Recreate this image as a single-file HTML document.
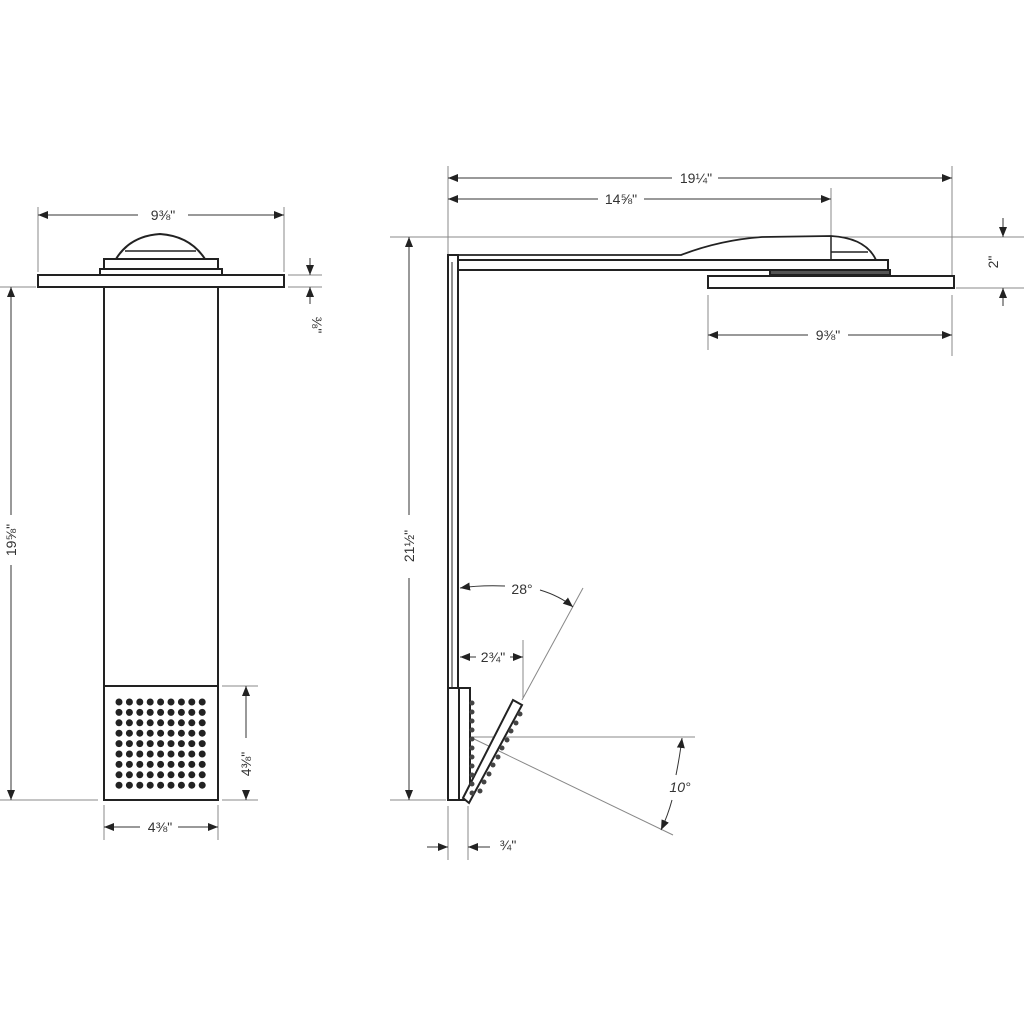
<!DOCTYPE html>
<html><head><meta charset="utf-8"><style>
html,body{margin:0;padding:0;background:#fff}
svg{display:block}
text{font-family:"Liberation Sans",sans-serif;font-size:14px;fill:#333}
</style></head><body>
<svg width="1024" height="1024" viewBox="0 0 1024 1024" xmlns="http://www.w3.org/2000/svg">
<defs>
<marker id="a" viewBox="0 0 10 10" refX="10" refY="5" markerWidth="10" markerHeight="10" markerUnits="userSpaceOnUse" orient="auto-start-reverse"><path d="M0,1 L10,5 L0,9 z" fill="#222"/></marker>
<g id="row">
<circle cx="119" cy="0" r="3.5"/><circle cx="129.4" cy="0" r="3.5"/><circle cx="139.8" cy="0" r="3.5"/><circle cx="150.2" cy="0" r="3.5"/><circle cx="160.6" cy="0" r="3.5"/><circle cx="171" cy="0" r="3.5"/><circle cx="181.4" cy="0" r="3.5"/><circle cx="191.8" cy="0" r="3.5"/><circle cx="202.2" cy="0" r="3.5"/>
</g>
</defs>
<g stroke="#888" stroke-width="1" fill="none">
<line x1="38" y1="207" x2="38" y2="272"/>
<line x1="284" y1="207" x2="284" y2="272"/>
<line x1="288" y1="275" x2="322" y2="275"/>
<line x1="288" y1="287" x2="322" y2="287"/>
<line x1="0" y1="287" x2="36" y2="287"/>
<line x1="0" y1="800" x2="98" y2="800"/>
<line x1="222" y1="686" x2="258" y2="686"/>
<line x1="222" y1="800" x2="258" y2="800"/>
<line x1="104" y1="805" x2="104" y2="840"/>
<line x1="218" y1="805" x2="218" y2="840"/>
<line x1="448" y1="166" x2="448" y2="254"/>
<line x1="952" y1="166" x2="952" y2="286"/>
<line x1="831" y1="188" x2="831" y2="237"/>
<line x1="390" y1="237" x2="1024" y2="237"/>
<line x1="956" y1="288" x2="1024" y2="288"/>
<line x1="708" y1="295" x2="708" y2="350"/>
<line x1="952" y1="295" x2="952" y2="356"/>
<line x1="390" y1="800" x2="446" y2="800"/>
<line x1="448" y1="806" x2="448" y2="860"/>
<line x1="468" y1="806" x2="468" y2="860"/>
<line x1="523" y1="640" x2="523" y2="698"/>
<line x1="522" y1="700" x2="583" y2="588"/>
<line x1="472" y1="737" x2="695" y2="737"/>
<line x1="472" y1="738" x2="673" y2="835"/>
</g>
<g stroke="#333" stroke-width="1" fill="none">
<line x1="38" y1="215" x2="138" y2="215" marker-start="url(#a)"/>
<line x1="188" y1="215" x2="284" y2="215" marker-end="url(#a)"/>
<line x1="310" y1="258" x2="310" y2="275" marker-end="url(#a)"/>
<line x1="310" y1="304" x2="310" y2="287" marker-end="url(#a)"/>
<line x1="11" y1="287" x2="11" y2="515" marker-start="url(#a)"/>
<line x1="11" y1="565" x2="11" y2="800" marker-end="url(#a)"/>
<line x1="246" y1="686" x2="246" y2="738" marker-start="url(#a)"/>
<line x1="246" y1="790" x2="246" y2="800" marker-end="url(#a)"/>
<line x1="104" y1="827" x2="140" y2="827" marker-start="url(#a)"/>
<line x1="178" y1="827" x2="218" y2="827" marker-end="url(#a)"/>
<line x1="448" y1="178" x2="672" y2="178" marker-start="url(#a)"/>
<line x1="718" y1="178" x2="952" y2="178" marker-end="url(#a)"/>
<line x1="448" y1="199" x2="598" y2="199" marker-start="url(#a)"/>
<line x1="644" y1="199" x2="831" y2="199" marker-end="url(#a)"/>
<line x1="1003" y1="218" x2="1003" y2="237" marker-end="url(#a)"/>
<line x1="1003" y1="306" x2="1003" y2="288" marker-end="url(#a)"/>
<line x1="708" y1="335" x2="808" y2="335" marker-start="url(#a)"/>
<line x1="848" y1="335" x2="952" y2="335" marker-end="url(#a)"/>
<line x1="409" y1="237" x2="409" y2="515" marker-start="url(#a)"/>
<line x1="409" y1="578" x2="409" y2="800" marker-end="url(#a)"/>
<line x1="460" y1="657" x2="476" y2="657" marker-start="url(#a)"/>
<line x1="510" y1="657" x2="523" y2="657" marker-end="url(#a)"/>
<line x1="427" y1="847" x2="448" y2="847" marker-end="url(#a)"/>
<line x1="490" y1="847" x2="468" y2="847" marker-end="url(#a)"/>
<path d="M505,586 Q480,585 460,588" marker-end="url(#a)"/>
<path d="M540,590 Q560,596 573,607" marker-end="url(#a)"/>
<path d="M676,775 Q680,755 682,738" marker-end="url(#a)"/>
<path d="M672,800 Q668,815 661,830" marker-end="url(#a)"/>
</g>
<g stroke="#222" stroke-width="2" fill="#fff">
<path d="M116,259 Q130,236 160,234 Q190,236 205,259 Z"/>
<line x1="125" y1="251" x2="196" y2="251" stroke-width="1.5"/>
<rect x="104" y="259" width="114" height="10"/>
<rect x="100" y="269" width="122" height="6"/>
<rect x="38" y="275" width="246" height="12"/>
<rect x="104" y="287" width="114" height="513"/>
<line x1="104" y1="686" x2="218" y2="686"/>
<path d="M449,255 L681,255 Q720,240 762,237 L831,236 Q866,238 876,260 L449,260 Z" stroke-width="1.8"/>
<line x1="831" y1="236" x2="831" y2="260" stroke-width="1.5"/>
<line x1="831" y1="252" x2="868" y2="252" stroke-width="1.5"/>
<rect x="458" y="260" width="430" height="10"/>
<rect x="770" y="270" width="120" height="5" fill="#555"/>
<rect x="708" y="276" width="246" height="12"/>
<rect x="448" y="255" width="10" height="433"/>
<line x1="452" y1="262" x2="452" y2="688" stroke-width="1"/>
<rect x="448" y="688" width="22" height="112"/>
<line x1="459" y1="688" x2="459" y2="800"/>
<polygon points="463,798 513,700 522,705 469,803"/>
</g>
<g fill="#222">
<use href="#row" y="702"/><use href="#row" y="712.4"/><use href="#row" y="722.8"/><use href="#row" y="733.2"/><use href="#row" y="743.6"/><use href="#row" y="754"/><use href="#row" y="764.4"/><use href="#row" y="774.8"/><use href="#row" y="785.2"/>
</g>
<g fill="#444">
<circle cx="472" cy="703" r="2.5"/><circle cx="472" cy="712" r="2.5"/><circle cx="472" cy="721" r="2.5"/><circle cx="472" cy="730" r="2.5"/><circle cx="472" cy="739" r="2.5"/><circle cx="472" cy="748" r="2.5"/><circle cx="472" cy="757" r="2.5"/><circle cx="472" cy="766" r="2.5"/><circle cx="472" cy="775" r="2.5"/><circle cx="472" cy="784" r="2.5"/><circle cx="472" cy="793" r="2.5"/>
<circle cx="520" cy="714" r="2.5"/><circle cx="516" cy="723" r="2.5"/><circle cx="511" cy="731" r="2.5"/><circle cx="507" cy="740" r="2.5"/><circle cx="502" cy="748" r="2.5"/><circle cx="498" cy="757" r="2.5"/><circle cx="493" cy="765" r="2.5"/><circle cx="489" cy="774" r="2.5"/><circle cx="484" cy="782" r="2.5"/><circle cx="480" cy="791" r="2.5"/>
</g>
<text x="163" y="220" text-anchor="middle">9⅜"</text>
<text transform="translate(312,325) rotate(90)" text-anchor="middle" font-size="11">⅜"</text>
<text transform="translate(16,540) rotate(-90)" text-anchor="middle">19⅝"</text>
<text transform="translate(251,764) rotate(-90)" text-anchor="middle">4⅜"</text>
<text x="160" y="832" text-anchor="middle">4⅜"</text>
<text x="696" y="183" text-anchor="middle">19¼"</text>
<text x="621" y="204" text-anchor="middle">14⅝"</text>
<text transform="translate(998,262) rotate(-90)" text-anchor="middle">2"</text>
<text x="828" y="340" text-anchor="middle">9⅜"</text>
<text transform="translate(414,546) rotate(-90)" text-anchor="middle">21½"</text>
<text x="522" y="594" text-anchor="middle">28°</text>
<text x="493" y="662" text-anchor="middle">2¾"</text>
<text x="680" y="792" text-anchor="middle" font-style="italic">10°</text>
<text x="508" y="850" text-anchor="middle" font-size="12">¾"</text>
</svg>
</body></html>
